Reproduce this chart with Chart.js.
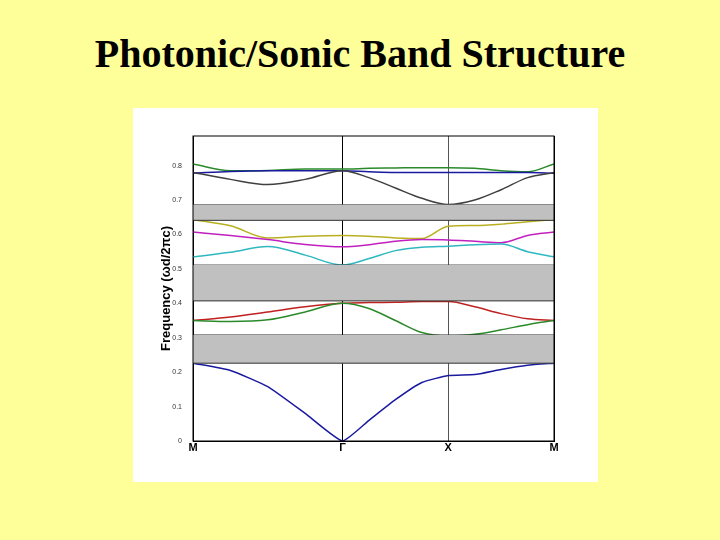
<!DOCTYPE html>
<html lang="en">
  <head>
    <meta charset="UTF-8" />
    <title>Photonic/Sonic Band Structure</title>
    <script src="https://cdn.jsdelivr.net/npm/chart.js"></script>
    <style>
      body { margin: 0; width: 720px; height: 540px; background: #ffff99; position: relative; overflow: hidden; }
      h1 { position: absolute; top: 30px; left: 0; width: 720px; margin: 0; text-align: center;
           font: bold 40px "Liberation Serif", "Times New Roman", serif; color: #000; }
      #panel { position: absolute; left: 133px; top: 108px; width: 465px; height: 374px; background: #fff; }
    </style>
  </head>
  <body>
    <h1>Photonic/Sonic Band Structure</h1>
    <div id="panel"><canvas id="bands" width="465" height="374"></canvas></div>

    <script>
      // k path positions: M -> Γ -> X -> M
      const kPos = [0, 0.354, 0.707, 1.061, 1.414, 1.664, 1.914, 2.164, 2.414, 2.664, 2.914, 3.164, 3.414];
      const symPos = [0, 1.414, 2.414, 3.414];
      const symLabels = ["M", "Γ", "X", "M"];
      const yTicks = [0, 0.1, 0.2, 0.3, 0.4, 0.5, 0.6, 0.7, 0.8];

      const band1 = [0.226, 0.205, 0.158, 0.08, 0, 0.06, 0.12, 0.17, 0.19, 0.193, 0.208, 0.22, 0.226];
      const band2 = [0.35, 0.347, 0.352, 0.375, 0.40, 0.385, 0.35, 0.315, 0.305, 0.31, 0.323, 0.338, 0.35];
      const band3 = [0.35, 0.36, 0.375, 0.39, 0.40, 0.402, 0.403, 0.405, 0.405, 0.39, 0.37, 0.355, 0.35];
      const band4 = [0.535, 0.548, 0.565, 0.54, 0.511, 0.53, 0.553, 0.563, 0.566, 0.57, 0.572, 0.55, 0.535];
      const band5 = [0.607, 0.597, 0.585, 0.571, 0.564, 0.57, 0.58, 0.585, 0.584, 0.58, 0.576, 0.597, 0.607];
      const band6 = [0.643, 0.625, 0.59, 0.595, 0.597, 0.595, 0.59, 0.588, 0.624, 0.626, 0.63, 0.637, 0.643];
      const band7 = [0.78, 0.76, 0.745, 0.76, 0.785, 0.765, 0.735, 0.705, 0.687, 0.70, 0.73, 0.765, 0.78];
      const band8 = [0.778, 0.783, 0.785, 0.785, 0.785, 0.782, 0.78, 0.78, 0.78, 0.78, 0.78, 0.78, 0.778];
      const band9 = [0.805, 0.785, 0.786, 0.79, 0.79, 0.792, 0.793, 0.794, 0.794, 0.792, 0.785, 0.782, 0.805];

      const bands = [band1, band2, band3, band4, band5, band6, band7, band8, band9];
      const bandColors = ["#1a1aa0", "#2a8a2a", "#c02020", "#30b8c0", "#c020c0", "#b8b020", "#404040", "#1a1aa0", "#2a8a2a"];

      // band gaps [lower, upper]
      const gaps = [[0.226, 0.308], [0.407, 0.511], [0.641, 0.686]];

      const pts = (arr) => arr.map((v, i) => ({ x: kPos[i], y: v }));
      const flat = (v) => [{ x: 0, y: v }, { x: 3.414, y: v }];

      const datasets = [];
      gaps.forEach(([lo, hi]) => {
        datasets.push({ data: flat(lo), borderColor: "#333", borderWidth: 1, pointRadius: 0, fill: "+1", backgroundColor: "#c0c0c0" });
        datasets.push({ data: flat(hi), borderColor: "#333", borderWidth: 1, pointRadius: 0, fill: false });
      });
      bands.forEach((b, i) => {
        datasets.push({
          data: pts(b), borderColor: bandColors[i], borderWidth: 1.5, pointRadius: 0, fill: false,
          // the acoustic band has a sharp V at Γ
          tension: i === 0 ? 0.15 : 0.4,
          cubicInterpolationMode: i === 0 ? "default" : "monotone",
        });
      });

      new Chart(document.getElementById("bands"), {
        type: "line",
        data: { datasets },
        options: {
          responsive: false,
          animation: false,
          layout: { padding: { top: 28, right: 44, left: 26 } },
          plugins: { legend: { display: false }, tooltip: { enabled: false } },
          scales: {
            x: {
              type: "linear", min: 0, max: 3.414,
              afterBuildTicks: (s) => { s.ticks = symPos.map((v) => ({ value: v })); },
              afterFit: (s) => { s.height = 41; },
              ticks: { callback: (v, i) => symLabels[i], color: "#000", font: { family: "Arial", weight: "bold", size: 11 }, padding: 0 },
              grid: { color: (c) => (c.index === 2 ? "#555" : "#000"), lineWidth: 1, drawTicks: false },
              border: { color: "#000" },
            },
            y: {
              min: 0, max: 0.886,
              afterBuildTicks: (s) => { s.ticks = yTicks.map((v) => ({ value: v })); },
              afterFit: (s) => { s.width = 34; },
              ticks: { callback: (v) => (v === 0 ? "0" : v.toFixed(1)), color: "#333", font: { family: "Arial", size: 7 } },
              grid: { display: false },
              border: { color: "#000" },
              title: { display: true, text: "Frequency (ωd/2πc)", color: "#000", font: { family: "Arial", weight: "bold", size: 13 }, padding: 0 },
            },
          },
        },
        plugins: [{
          id: "frame",
          afterDraw(chart) {
            const { ctx, chartArea: a } = chart;
            ctx.save();
            ctx.strokeStyle = "#000";
            ctx.lineWidth = 1;
            ctx.strokeRect(a.left, a.top, a.right - a.left, a.bottom - a.top);
            ctx.restore();
          },
        }],
      });
    </script>
  </body>
</html>
